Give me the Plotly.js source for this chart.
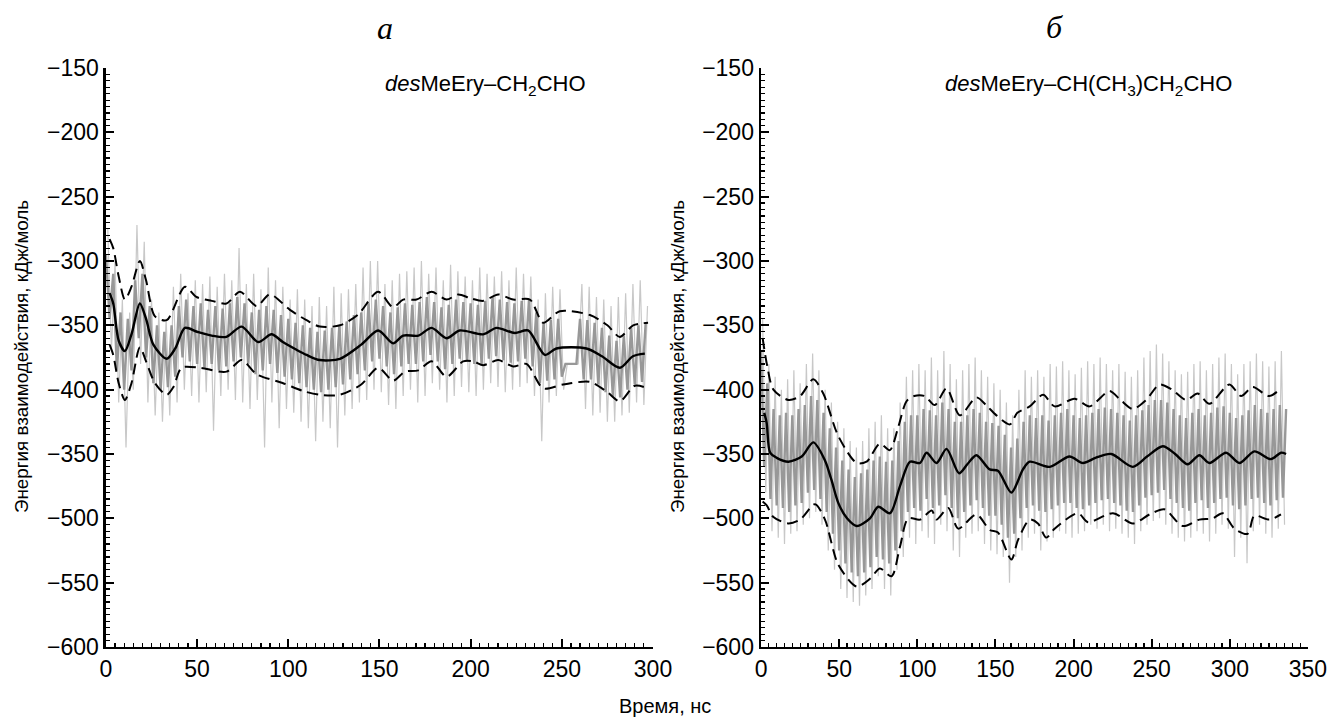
<!DOCTYPE html>
<html><head><meta charset="utf-8">
<script src="https://cdn.plot.ly/plotly-3.0.1.min.js"></script>
<style>html,body{margin:0;padding:0;background:#fff}</style>
</head><body>
<div id="chart" style="width:1331px;height:720px"></div>
<script>
// ---------- Panel a : desMeEry–CH2CHO ----------
const aStep = 2;                  // ns between raw samples
const aCoreStart = 0, aSpikeStart = 1;
const aCore = [-295,-345,-310,-385,-340,-400,-345,-385,-315,-360,-310,-375,-335,-395,-350,-400,-355,-398,-350,-390,
 -335,-375,-330,-378,-335,-380,-333,-383,-338,-380,-335,-385,-337,-382,-333,-378,-328,-375,-333,-380,
 -340,-388,-338,-385,-335,-380,-338,-387,-342,-390,-345,-392,-348,-395,-350,-398,-352,-400,-355,-402,
 -354,-400,-352,-398,-350,-396,-347,-392,-342,-388,-340,-385,-333,-378,-330,-376,-335,-382,-340,-388,
 -336,-382,-333,-380,-334,-380,-332,-378,-328,-373,-332,-378,-336,-384,-334,-380,-330,-376,-332,-378,
 -333,-380,-334,-380,-331,-376,-328,-374,-330,-377,-332,-379,-333,-378,-331,-376,-330,-382,-340,-395,
 -348,-393,-346,-392,-345,-390,-380,-380,-380,-380,-345,-392,-346,-392,-348,-396,-352,-402,-358,-405,
 -362,-406,-358,-400,-352,-396,-350,-394,-348];
const aSpike = [-275,-370,-300,-410,-330,-445,-340,-400,-272,-380,-285,-410,-330,-420,-340,-425,-345,-420,-320,-410,
 -310,-400,-325,-405,-315,-410,-318,-402,-312,-432,-320,-405,-310,-400,-315,-408,-290,-410,-318,-415,
 -310,-408,-322,-445,-305,-410,-315,-430,-320,-415,-330,-418,-322,-425,-330,-430,-335,-440,-328,-425,
 -335,-430,-320,-445,-325,-420,-322,-415,-318,-410,-305,-408,-300,-400,-300,-402,-318,-412,-315,-415,
 -310,-405,-308,-400,-305,-410,-300,-405,-310,-395,-305,-400,-315,-410,-303,-405,-308,-398,-312,-402,
 -315,-405,-305,-400,-310,-395,-312,-398,-308,-402,-315,-400,-305,-398,-310,-395,-312,-405,-330,-440,
 -325,-410,-320,-405,-322,-400,-380,-380,-380,-380,-318,-415,-320,-420,-328,-418,-330,-425,-335,-425,
 -328,-420,-325,-418,-318,-410,-315,-412,-335];
const aMeanT = [2,4,7,10.4,14,18.6,22,26,33.3,38,43.3,50,58,66,74.4,83.5,90.8,97,104.5,110,117.3,128.3,140,149.3,157.5,163,171.3,178.6,186.8,194,206.9,214.2,224.2,231.5,240.7,247,263.5,272,281.8,289,295.5];
const aMeanV = [-325,-333,-362,-370,-357,-333,-345,-365,-376,-368,-352,-355,-358,-359,-351,-363,-357,-363,-369,-373,-377,-376,-365,-354,-364,-358,-358,-352,-360,-354,-357,-352,-356,-354,-373,-368,-368,-374,-383,-374,-372];
const aUpT = [2,4,7,10.4,14,18.6,22,26.9,33.3,43.3,49.7,58,66.1,73.5,82.6,89.9,100.9,110,117.3,128.3,138,149.3,157.5,163,170.3,178.6,186.8,193.2,200,206.9,215.1,223.3,232.5,239.8,248.9,265.4,275,281.8,289.1,297.3];
const aUpV = [-283,-290,-312,-330,-320,-300,-315,-343,-346,-320,-328,-331,-333,-324,-335,-326,-338,-346,-351,-350,-342,-324,-336,-330,-330,-324,-330,-326,-329,-331,-326,-330,-330,-348,-339,-342,-350,-359,-350,-348];
const aLoT = [2,4,7,10.4,14,18.6,22,26.9,33.3,37,41.5,51.5,66.1,74.4,82.6,97.2,108,117.3,128.3,140,149.3,157.5,163.9,171.3,178.6,186.8,195.9,201.4,206.9,215.1,223.3,230.6,239.8,250.7,265.4,275,281.8,290,297.3];
const aLoV = [-365,-373,-395,-408,-395,-367,-378,-395,-404,-398,-383,-383,-386,-377,-388,-395,-401,-404,-404,-396,-383,-393,-386,-385,-378,-390,-378,-378,-381,-377,-382,-380,-399,-396,-394,-402,-409,-397,-399];

// ---------- Panel б : desMeEry–CH(CH3)CH2CHO ----------
const bStep = 2;
const bCoreStart = 0, bSpikeStart = 1;
const bCore = [-370,-460,-395,-485,-415,-490,-420,-492,-418,-495,-420,-490,-415,-488,-412,-480,-405,-478,-408,-485,
 -418,-495,-430,-512,-445,-525,-455,-535,-462,-542,-468,-545,-465,-542,-462,-538,-455,-530,-452,-532,
 -456,-535,-455,-525,-440,-510,-425,-495,-420,-492,-420,-494,-415,-485,-416,-492,-420,-490,-410,-482,
 -415,-492,-425,-500,-425,-495,-420,-490,-415,-486,-418,-492,-425,-498,-426,-498,-428,-505,-435,-515,
 -445,-512,-438,-500,-425,-492,-420,-490,-422,-494,-420,-495,-424,-493,-420,-490,-418,-488,-415,-488,
 -420,-492,-422,-493,-420,-490,-418,-488,-415,-486,-414,-485,-415,-488,-418,-490,-420,-494,-424,-495,
 -420,-490,-416,-484,-412,-482,-408,-480,-408,-478,-410,-485,-415,-488,-420,-492,-422,-494,-418,-488,
 -415,-486,-420,-492,-418,-488,-414,-485,-413,-484,-418,-490,-422,-493,-420,-490,-416,-485,-412,-484,
 -415,-488,-418,-490,-415,-486,-412,-484,-415];
const bSpike = [-345,-480,-380,-510,-390,-515,-400,-520,-392,-512,-385,-510,-395,-505,-380,-500,-372,-495,-385,-505,
 -400,-525,-410,-540,-425,-555,-430,-562,-440,-565,-445,-568,-440,-560,-430,-555,-425,-545,-420,-555,
 -430,-560,-430,-540,-410,-530,-390,-515,-385,-520,-380,-510,-385,-515,-375,-520,-385,-505,-370,-510,
 -380,-525,-392,-530,-385,-515,-380,-512,-375,-510,-385,-520,-390,-525,-395,-528,-400,-530,-410,-550,
 -420,-530,-400,-525,-385,-515,-390,-512,-385,-525,-390,-518,-380,-515,-382,-510,-378,-512,-385,-515,
 -388,-512,-383,-510,-378,-505,-380,-508,-375,-505,-380,-510,-385,-508,-380,-512,-386,-515,-390,-520,
 -385,-510,-375,-505,-370,-502,-365,-500,-372,-505,-378,-512,-385,-515,-388,-518,-386,-515,-380,-510,
 -378,-512,-385,-518,-380,-512,-375,-505,-372,-508,-380,-530,-388,-515,-380,-535,-378,-510,-372,-505,
 -378,-512,-382,-515,-378,-508,-370,-505];
const bMeanT = [2,3.6,5.8,10,17.5,26,33.4,40.9,45,49.4,55,61.2,69.7,75,82.5,88.9,95.3,101.7,105.9,112.3,118.7,126.7,132,137.8,146.3,151.6,160.2,167.6,171.9,184.7,197.4,206,214,224.1,237.9,247,257.1,265,273,280.5,286.9,297.6,306.1,315.7,326.3,332.7,336];
const bMeanV = [-418,-426,-449,-453,-456,-452,-441,-455,-470,-488,-500,-506,-500,-491,-496,-475,-456,-457,-449,-457,-446,-465,-458,-451,-462,-463,-480,-462,-456,-460,-452,-457,-453,-450,-460,-452,-444,-450,-458,-451,-457,-449,-457,-448,-454,-449,-450];
const bUpT = [1,4,7.9,17.5,25,33.4,39.8,49.4,61.2,67.5,76,82.4,87.8,93.1,98,104.8,111.2,118.7,127.2,137.8,144,150.6,159.2,164,171.9,180.5,187.9,200.6,210.2,223,230,237.9,246.5,255,263,272,279.4,286.9,299.7,307.2,314.6,325.2,332.7];
const bUpV = [-360,-382,-400,-408,-405,-392,-403,-436,-457,-456,-442,-447,-429,-409,-405,-405,-412,-399,-420,-406,-412,-420,-427,-418,-413,-404,-413,-407,-413,-401,-408,-415,-408,-396,-400,-408,-403,-411,-396,-405,-398,-405,-399];
const bLoT = [1,3.6,7.9,17.5,25,34.5,40.9,49.4,61.2,69.7,76,83.5,88.9,94.2,101.7,109.2,112.3,119.8,126.2,137.8,146.3,151.6,160.2,164.4,171.9,177.2,182.5,187.9,202.8,209.2,225.2,237.9,248.6,258.1,269.8,280.5,289,295.4,302.9,311.4,315.7,325.2,332.7];
const bLoV = [-487,-490,-499,-504,-501,-489,-501,-536,-553,-547,-539,-545,-522,-500,-501,-494,-501,-492,-508,-497,-509,-511,-532,-517,-501,-504,-515,-508,-496,-503,-496,-504,-497,-493,-506,-501,-500,-496,-508,-512,-498,-501,-497];

// ---------- axis tick labels ----------
const yTickVals = [-600,-550,-500,-450,-400,-350,-300,-250,-200,-150];
const yTickText = ['−600','−550','−500','−350','−400','−350','−300','−250','−200','−150'];
const aXTicks = [0,50,100,150,200,250,300];
const bXTicks = [0,50,100,150,200,250,300,350];

const times = (start, step, n) => Array.from({length:n}, (_, i) => start + i*step);

const light = 'rgb(200,200,200)', dark = 'rgb(152,152,152)';
function panel(xa, ya, core, coreStart, spike, spikeStart, step, mT, mV, uT, uV, lT, lV) {
  return [
    {x: times(spikeStart, step, spike.length), y: spike, xaxis: xa, yaxis: ya, mode:'lines', line:{color:light, width:1.2}, hoverinfo:'skip'},
    {x: times(coreStart, step, core.length), y: core, xaxis: xa, yaxis: ya, mode:'lines', line:{color:dark, width:2.4}, hoverinfo:'skip'},
    {x: uT, y: uV, xaxis: xa, yaxis: ya, mode:'lines', line:{color:'black', width:2, dash:'11px,6px', shape:'spline', smoothing:0.8}},
    {x: lT, y: lV, xaxis: xa, yaxis: ya, mode:'lines', line:{color:'black', width:2, dash:'11px,6px', shape:'spline', smoothing:0.8}},
    {x: mT, y: mV, xaxis: xa, yaxis: ya, mode:'lines', line:{color:'black', width:2.4, shape:'spline', smoothing:0.8}}
  ];
}
const data = [].concat(
  panel('x','y', aCore, aCoreStart, aSpike, aSpikeStart, aStep, aMeanT, aMeanV, aUpT, aUpV, aLoT, aLoV),
  panel('x2','y2', bCore, bCoreStart, bSpike, bSpikeStart, bStep, bMeanT, bMeanV, bUpT, bUpV, bLoT, bLoV)
);

const minorStyle = {ticks:'inside', ticklen:4, tickwidth:1.2, tickcolor:'black', showgrid:false};
function xAx(domain, range, ticks, anchor) {
  return {domain, range, anchor, tickmode:'array', tickvals:ticks, ticktext:ticks.map(String),
    ticks:'inside', ticklen:8, tickwidth:2, tickcolor:'black', showline:true, linewidth:2.5, linecolor:'black',
    showgrid:false, zeroline:false, tickfont:{size:23, color:'black'},
    minor:Object.assign({tickmode:'linear', tick0:0, dtick:5}, minorStyle)};
}
function yAx(anchor) {
  return {domain:[0.1014,0.9056], range:[-600,-150], anchor, tickmode:'array', tickvals:yTickVals, ticktext:yTickText,
    ticks:'inside', ticklen:8, tickwidth:2, tickcolor:'black', showline:true, linewidth:2.5, linecolor:'black',
    showgrid:false, zeroline:false, tickfont:{size:23, color:'black'},
    minor:Object.assign({tickmode:'linear', tick0:0, dtick:5}, minorStyle)};
}
const ytitle = 'Энергия взаимодействия, кДж/моль';
const ann = (text, px, py, extra) => Object.assign({text, xref:'paper', yref:'paper', x:px/1331, y:1-py/720,
  xanchor:'center', yanchor:'middle', showarrow:false}, extra);
const layout = {
  width:1331, height:720, margin:{l:0,r:0,t:0,b:0}, showlegend:false,
  paper_bgcolor:'white', plot_bgcolor:'white',
  font:{family:'Liberation Sans, Arial, sans-serif', color:'black'},
  xaxis: xAx([0.0796,0.4906],[0,300],aXTicks,'y'),
  yaxis: yAx('x'),
  xaxis2: xAx([0.5718,0.9827],[0,350],bXTicks,'y2'),
  yaxis2: yAx('x2'),
  annotations: [
    ann('<i>a</i>', 385, 28, {font:{family:'Liberation Serif, Times New Roman, serif', size:32}}),
    ann('<i>б</i>', 1054, 27, {font:{family:'Liberation Serif, Times New Roman, serif', size:32}}),
    ann('<i>des</i>MeEry–CH<sub>2</sub>CHO', 383, 85, {xanchor:'left', font:{size:22}}),
    ann('<i>des</i>MeEry–CH(CH<sub>3</sub>)CH<sub>2</sub>CHO', 943, 85, {xanchor:'left', font:{size:22}}),
    ann(ytitle, 21, 357, {textangle:-90, font:{size:18.8}}),
    ann(ytitle, 677, 357, {textangle:-90, font:{size:18.8}}),
    ann('Время, нс', 665, 706, {font:{size:20}})
  ]
};
Plotly.newPlot('chart', data, layout, {staticPlot:true, displayModeBar:false});
</script>
</body></html>
